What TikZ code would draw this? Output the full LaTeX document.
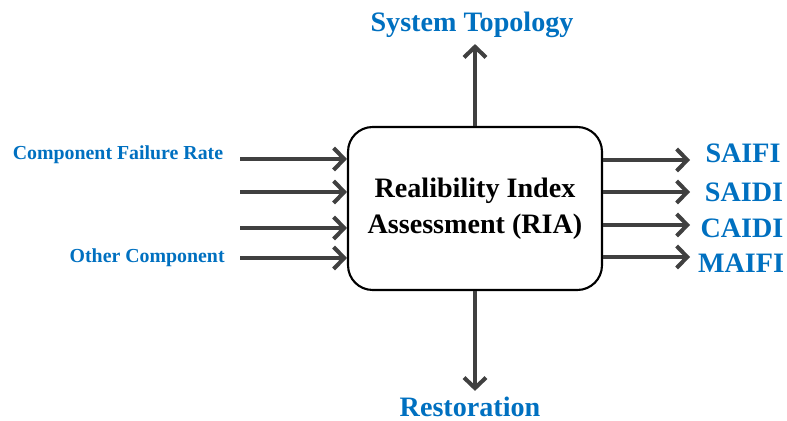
\documentclass[tikz,border=0pt]{standalone}
\usepackage{fontspec}
\setmainfont{Liberation Serif}
\usetikzlibrary{arrows.meta,positioning}
\definecolor{riablue}{HTML}{0070C0}
\definecolor{arwgray}{HTML}{404040}

\tikzstyle{box} = [draw, line width=1.2pt, rounded corners=14pt, minimum width=5.08cm, minimum height=3.26cm, align=center, font=\bfseries\fontsize{16}{20.5}\selectfont]
\tikzstyle{ttl} = [text=riablue, font=\bfseries\fontsize{16}{19}\selectfont]
\tikzstyle{lbl} = [text=riablue, font=\bfseries\fontsize{11.3}{13}\selectfont, inner sep=0pt]
\tikzstyle{arw} = [->, draw=arwgray, line width=2.3pt]

\begin{document}
\begin{tikzpicture}[x=0.02cm, y=-0.02cm,
>={Straight Barb[length=6pt,width=12.5pt]},
]
\useasboundingbox (0,0) rectangle (787,421);

% RIA block
\node[box] (ria) at (475,208.5) {Realibility Index\\Assessment (RIA)};

%TOP
\node[ttl] (topo) at (472,25) {System Topology};
\draw[arw] (ria.north) -- (ria.north |- topo.south);

%BOTTOM
\node[ttl] (rest) at (470,407) {Restoration};
\draw[arw] (ria.south) -- (ria.south |- rest.north);

%INPUTS
\foreach \y [count=\i] in {159,192,228,258} {%
 \coordinate (in\i) at (240,\y);
 \draw[arw] (in\i) -- (in\i -| ria.west);
}
\node[lbl, left=0.33cm of in1, yshift=2.3pt] (cfr) {Component Failure Rate};
\node[lbl, left=0.3cm of in4] (oth) {Other Component};

%OUTPUTS
\foreach \y [count=\i] in {160,192,225,257} {%
 \coordinate (out\i) at (690,\y);
 \draw[arw] (out\i -| ria.east) -- (out\i);
}
\node[ttl] (saifi) at (743,153) {SAIFI};
\node[ttl] (saidi) at (744,192) {SAIDI};
\node[ttl] (caidi) at (742,228) {CAIDI};
\node[ttl] (maifi) at (741,263) {MAIFI};
\end{tikzpicture}
\end{document}
